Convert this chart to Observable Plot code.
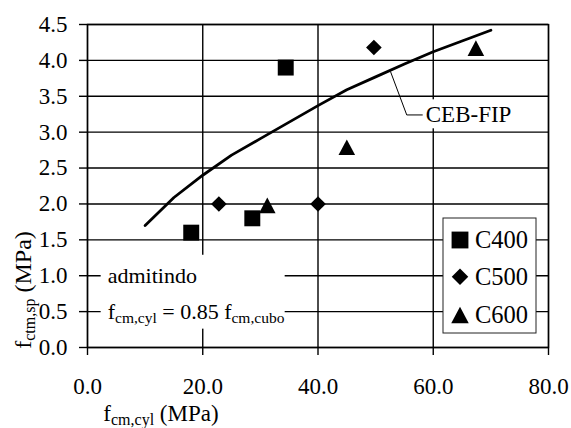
<!DOCTYPE html>
<html>
<head>
<meta charset="utf-8">
<script src="https://cdn.jsdelivr.net/npm/d3@7"></script>
<script src="https://cdn.jsdelivr.net/npm/@observablehq/plot@0.6"></script>
<style>
  body { margin: 0; background: #fff; }
  #chart { position: relative; width: 571px; height: 428px; }
</style>
</head>
<body>
<div id="chart"></div>
<script>
// ---- data ----
const xTicks = [0, 20, 40, 60, 80];
const yTicks = [0, 0.5, 1.0, 1.5, 2.0, 2.5, 3.0, 3.5, 4.0, 4.5];
const seriesNames = ["C400", "C500", "C600"];

const c400X = [18.0, 28.6, 34.4];
const c400Y = [1.60, 1.80, 3.90];
const c500X = [22.8, 40.0, 49.7];
const c500Y = [2.00, 2.00, 4.18];
const c600X = [31.2, 45.0, 67.4];
const c600Y = [1.98, 2.79, 4.17];

const cebX = [10, 15, 20, 25, 30, 35, 40, 45, 50, 55, 60, 65, 70];
const cebY = [1.70, 2.09, 2.40, 2.68, 2.91, 3.14, 3.37, 3.59, 3.77, 3.95, 4.12, 4.27, 4.42];

const cebLabel = ["CEB-FIP"];
const cebLabelX = [58.7];
const cebLabelY = [3.24];
const leaderX = [52.6, 55.4, 58.1];
const leaderY = [3.84, 3.24, 3.24];

const noteLines = ["admitindo", "f{cm,cyl} = 0.85 f{cm,cubo}"];
const noteX = [3.5, 3.5];
const noteY = [1.0, 0.5];

const xTitle = "f{cm,cyl} (MPa)";
const yTitle = "f{ctm,sp} (MPa)";

// ---- tables ----
const toPts = (xs, ys) => xs.map((x, i) => ({x, y: ys[i]}));
const c400 = toPts(c400X, c400Y);
const c500 = toPts(c500X, c500Y);
const c600 = toPts(c600X, c600Y);
const ceb = toPts(cebX, cebY);
const leader = toPts(leaderX, leaderY);
const cebLab = cebLabel.map((t, i) => ({t, x: cebLabelX[i], y: cebLabelY[i]}));
const notes = noteLines.map((t, i) => ({t, x: noteX[i], y: noteY[i]}));

// ---- symbols ----
const sqSym = {draw(ctx, size) { const s = Math.sqrt(size) / 2; ctx.rect(-s, -s, 2 * s, 2 * s); }};
const diSym = {draw(ctx, size) { const h = Math.sqrt(size) * 0.49; ctx.moveTo(0, -h); ctx.lineTo(h, 0); ctx.lineTo(0, h); ctx.lineTo(-h, 0); ctx.closePath(); }};
const trSym = {draw(ctx, size) { const s = Math.sqrt(size); const w = s * 0.52, hh = s * 0.49; ctx.moveTo(0, -hh); ctx.lineTo(w, hh); ctx.lineTo(-w, hh); ctx.closePath(); }};
const seriesSymbols = [sqSym, diSym, trSym];

const FONT = "'Liberation Serif', 'Times New Roman', serif";
const fmt = d => d.toFixed(1);
const LW = 1.4;

const plot = Plot.plot({
  width: 571,
  height: 428,
  marginLeft: 87,
  marginTop: 24,
  marginRight: 23,
  marginBottom: 81,
  style: {fontSize: "23px", background: "white", color: "black"},
  x: {domain: [0, 80]},
  y: {domain: [0, 4.5]},
  marks: [
    Plot.gridX({ticks: xTicks, stroke: "black", strokeOpacity: 1, strokeWidth: LW}),
    Plot.gridY({ticks: yTicks, stroke: "black", strokeOpacity: 1, strokeWidth: LW}),
    Plot.frame({stroke: "black", strokeWidth: LW}),
    Plot.axisX({ticks: xTicks, tickFormat: fmt, tickSize: 8, tickPadding: 22, label: null, strokeWidth: LW, fontSize: 23}),
    Plot.axisY({ticks: yTicks, tickFormat: fmt, tickSize: 8, tickPadding: 12, textAnchor: "end", label: null, strokeWidth: LW, fontSize: 23}),
    Plot.text(notes, {x: "x", y: "y", text: "t", textAnchor: "start", fontSize: 22, fill: "black"}),
    Plot.text(cebLab, {x: "x", y: "y", text: "t", textAnchor: "start", fontSize: 23, fill: "black"}),
    Plot.line(leader, {x: "x", y: "y", stroke: "black", strokeWidth: 1}),
    Plot.line(ceb, {x: "x", y: "y", stroke: "black", strokeWidth: 2.8, curve: "linear"}),
    Plot.dot(c400, {x: "x", y: "y", symbol: sqSym, r: 9, fill: "black", stroke: "none"}),
    Plot.dot(c500, {x: "x", y: "y", symbol: diSym, r: 9, fill: "black", stroke: "none"}),
    Plot.dot(c600, {x: "x", y: "y", symbol: trSym, r: 9, fill: "black", stroke: "none"})
  ]
});
plot.setAttribute("font-family", FONT);
plot.style.setProperty("font-family", FONT, "important");
document.getElementById("chart").appendChild(plot);

const ns = "http://www.w3.org/2000/svg";
const svg = plot;

function findText(str) {
  return Array.from(svg.querySelectorAll("text")).find(t => t.textContent === str);
}

function richText(el, str, subSize, shift) {
  while (el.firstChild) el.removeChild(el.firstChild);
  const parts = str.split(/(\{[^}]*\})/);
  let down = false;
  for (const p of parts) {
    if (!p) continue;
    const t = document.createElementNS(ns, "tspan");
    if (p.startsWith("{")) {
      t.textContent = p.slice(1, -1);
      t.setAttribute("font-size", subSize);
      t.setAttribute("dy", shift);
      down = true;
    } else {
      t.textContent = p;
      if (down) { t.setAttribute("dy", -shift); down = false; }
    }
    el.appendChild(t);
  }
}

function boxOf(els) {
  const sr = svg.getBoundingClientRect();
  let x0 = Infinity, y0 = Infinity, x1 = -Infinity, y1 = -Infinity;
  els.forEach(t => {
    const r = t.getBoundingClientRect();
    x0 = Math.min(x0, r.left - sr.left); y0 = Math.min(y0, r.top - sr.top);
    x1 = Math.max(x1, r.right - sr.left); y1 = Math.max(y1, r.bottom - sr.top);
  });
  return {x0, y0, x1, y1};
}

function whiteBox(texts, pad) {
  const b = boxOf(texts);
  const rect = document.createElementNS(ns, "rect");
  rect.setAttribute("x", b.x0 - pad[3]);
  rect.setAttribute("y", b.y0 - pad[0]);
  rect.setAttribute("width", b.x1 - b.x0 + pad[1] + pad[3]);
  rect.setAttribute("height", b.y1 - b.y0 + pad[0] + pad[2]);
  rect.setAttribute("fill", "white");
  const group = texts[0].parentNode;
  group.parentNode.insertBefore(rect, group);
}

// axis titles
const root = d3.select(svg);
const xt = root.append("text").attr("x", 161).attr("y", 421).attr("text-anchor", "middle")
  .attr("font-size", 23).attr("fill", "black");
richText(xt.node(), xTitle, 16, 4);
const yt = root.append("text").attr("transform", "translate(31,290) rotate(-90)").attr("text-anchor", "middle")
  .attr("font-size", 24).attr("fill", "black");
richText(yt.node(), yTitle, 16, 4);

// legend
const lg = root.append("g").attr("transform", "translate(443,218)");
lg.append("rect").attr("width", 93).attr("height", 115).attr("fill", "white").attr("stroke", "#222").attr("stroke-width", 1);
const rowY = [22, 58.7, 97];
seriesNames.forEach((name, i) => {
  lg.append("path")
    .attr("transform", `translate(17,${rowY[i]})`)
    .attr("d", d3.symbol(seriesSymbols[i], Math.PI * 9.5 * 9.5)())
    .attr("fill", "black");
  lg.append("text").attr("x", 32).attr("y", rowY[i]).attr("dy", "0.33em").attr("text-anchor", "start")
    .attr("font-size", 24.5).attr("fill", "black").text(name);
});

// serif font on every text
svg.querySelectorAll("text, tspan, g").forEach(el => {
  el.style.setProperty("font-family", FONT, "important");
});

// annotation with subscripts + white backgrounds
const noteEls = noteLines.map(findText).filter(Boolean);
noteEls.forEach((t, i) => richText(t, noteLines[i], 15.5, 4));
if (noteEls.length) whiteBox(noteEls, [8, 0, 3, 7]);
const cebEls = cebLabel.map(findText).filter(Boolean);
if (cebEls.length) whiteBox(cebEls, [3, 2, 1, 2]);
</script>
</body>
</html>
